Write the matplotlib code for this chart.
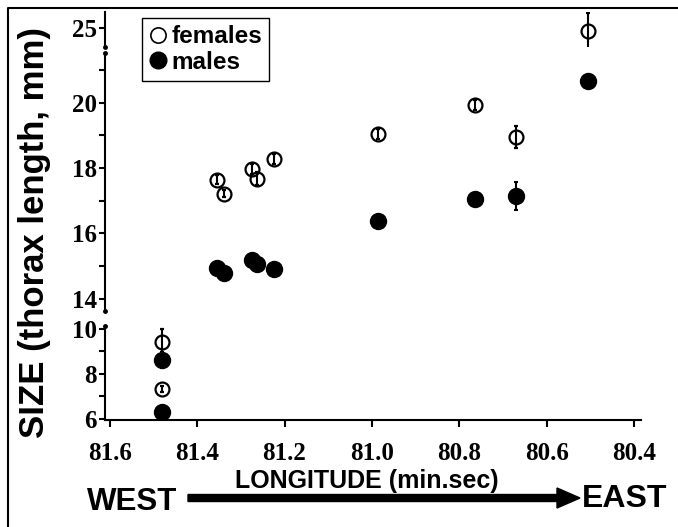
import numpy as np
import matplotlib
matplotlib.use('Agg')
import matplotlib.pyplot as plt
import matplotlib.patches as mpatches
from matplotlib.lines import Line2D

# site longitudes (two sites share 81.48)
longitude = [81.48, 81.48, 81.355, 81.339, 81.275, 81.264, 81.225, 80.987, 80.765, 80.671, 80.506]
female_size = [9.40, 7.33, 17.65, 17.22, 17.98, 17.68, 18.28, 19.05, 19.94, 18.95, 24.90]
female_err = [0.60, 0.15, 0.15, 0.12, 0.15, 0.20, 0.15, 0.15, 0.15, 0.33, 0.57]
male_size = [8.62, 6.31, 14.95, 14.77, 15.18, 15.05, 14.92, 16.37, 17.05, 17.14, 20.68]
male_err = [0.35, 0.10, 0.10, 0.10, 0.15, 0.12, 0.20, 0.10, 0.10, 0.42, 0.10]

x_ticks = [81.6, 81.4, 81.2, 81.0, 80.8, 80.6, 80.4]
x_labels = ['81.6', '81.4', '81.2', '81.0', '80.8', '80.6', '80.4']

W, H = 678, 527
SANS = ['Liberation Sans', 'DejaVu Sans']

# tick labels are a bold Times-like serif
plt.rcParams['font.family'] = ['Liberation Serif', 'DejaVu Serif']
plt.rcParams['font.weight'] = 'bold'
plt.rcParams['font.size'] = 18

fig = plt.figure(figsize=(W / 100, H / 100), dpi=100)

# broken y axis: (pixel top, pixel bottom, ylim, major ticks, minor ticks)
segments = [
    (12, 47, (24.417, 25.49), [25], []),
    (53, 311, (13.617, 21.53), [14, 16, 18, 20], [15, 17, 19, 21]),
    (326, 420, (5.956, 10.115), [6, 8, 10], [7, 9]),
]

left_px, right_px = 105, 641
axes = []
for top_px, bot_px, ylim, major, minor in segments:
    ax = fig.add_axes([left_px / W, 1 - bot_px / H, (right_px - left_px) / W, (bot_px - top_px) / H])
    ax.set_xlim(81.611, 80.384)
    ax.set_ylim(*ylim)
    for s in ['top', 'right', 'bottom']:
        ax.spines[s].set_visible(False)
    ax.spines['left'].set_linewidth(1.5)
    ax.set_yticks(major)
    ax.set_yticks(minor, minor=True)
    ax.set_yticklabels([str(v) for v in major])
    ax.tick_params(axis='y', which='both', direction='out', length=4, width=1.5, pad=2, labelsize=18)
    ax.tick_params(axis='x', bottom=False, labelbottom=False)
    ax.patch.set_visible(False)

    ax.errorbar(longitude, female_size, yerr=female_err, fmt='o', ms=10, mfc='none', mec='black',
                mew=1.6, ecolor='black', elinewidth=1.5, capsize=1.5, capthick=1.5)
    ax.errorbar(longitude, male_size, yerr=male_err, fmt='o', ms=11.5, mfc='black', mec='black',
                ecolor='black', elinewidth=1.5, capsize=1.5, capthick=1.5)
    axes.append(ax)

# break dots at the ends of the axis pieces
for ax, ends in zip(axes, [[0], [0, 1], [1]]):
    for e in ends:
        ax.plot([0], [e], 'o', ms=2.5, color='black', transform=ax.transAxes, clip_on=False)

bottom = axes[-1]
bottom.spines['bottom'].set_visible(True)
bottom.spines['bottom'].set_linewidth(1.5)
bottom.set_xticks(x_ticks)
bottom.set_xticklabels(x_labels)
bottom.tick_params(axis='x', bottom=True, labelbottom=True, direction='out', length=5, width=1.5,
                   pad=11, labelsize=18)

handles = [
    Line2D([], [], ls='none', marker='o', ms=11, mfc='none', mec='black', mew=1.2),
    Line2D([], [], ls='none', marker='o', ms=12, mfc='black', mec='black'),
]
leg = fig.legend(handles, ['females', 'males'], loc='upper left', bbox_to_anchor=(142 / W, 1 - 18 / H),
                 frameon=True, fancybox=False, edgecolor='black', framealpha=1,
                 prop={'family': SANS, 'weight': 'bold', 'size': 17.5},
                 handlelength=0.7, handletextpad=0.2, labelspacing=0.1, borderpad=0.3,
                 borderaxespad=0)
leg.get_frame().set_linewidth(1.0)

fig.text(35 / W, 1 - 232 / H, 'SIZE (thorax length, mm)', rotation=90, ha='center', va='center',
         fontfamily=SANS, fontweight='bold', fontsize=25)
fig.text(367 / W, 1 - 481 / H, 'LONGITUDE (min.sec)', ha='center', va='center',
         fontfamily=SANS, fontweight='bold', fontsize=18)
fig.text(132 / W, 1 - 502 / H, 'WEST', ha='center', va='center',
         fontfamily=SANS, fontweight='bold', fontsize=22.5)
fig.text(625 / W, 1 - 499 / H, 'EAST', ha='center', va='center',
         fontfamily=SANS, fontweight='bold', fontsize=23)

arrow = mpatches.FancyArrow(188 / 100, (H - 498) / 100, (580 - 188) / 100, 0, width=0.07,
                            head_width=0.20, head_length=0.23, length_includes_head=True,
                            color='black', transform=fig.dpi_scale_trans)
fig.patches.append(arrow)

# frame lines (left and top edges of the original figure box)
fig.add_artist(Line2D([8 / W, 8 / W, 1], [0, 1 - 8 / H, 1 - 8 / H], color='black', lw=1.5,
                      transform=fig.transFigure))

fig.savefig('out.png', dpi=100)
